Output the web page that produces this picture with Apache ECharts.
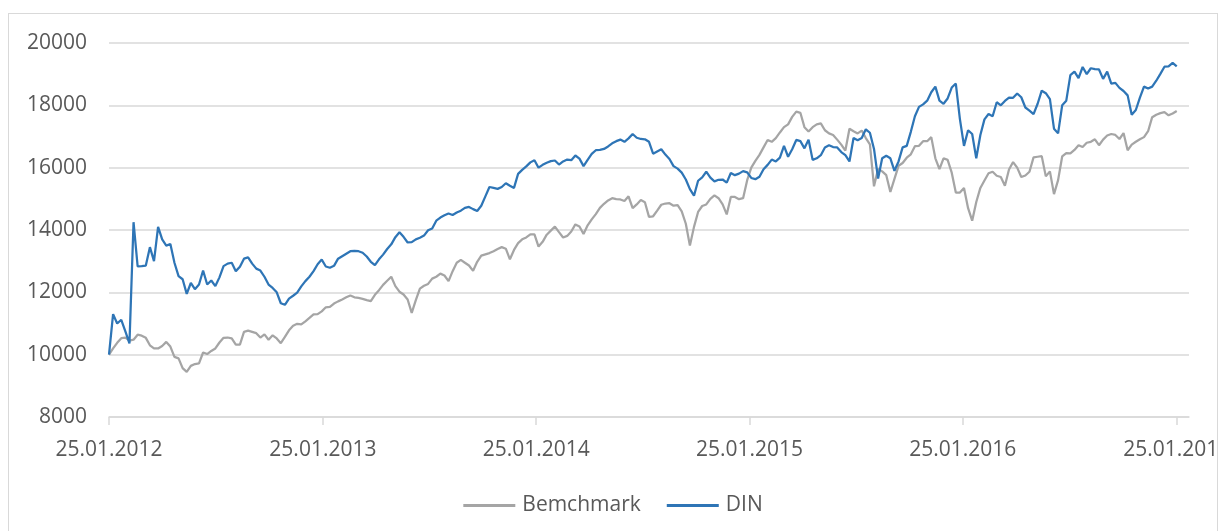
<!DOCTYPE html>
<html>
<head>
<meta charset="utf-8">
<script src="https://cdn.jsdelivr.net/npm/echarts@6/dist/echarts.min.js"></script>
<style>
  html, body { margin: 0; padding: 0; background: #fff; overflow: hidden; }
  #frame {
    position: absolute; left: 8px; top: 13px;
    width: 1208px; height: 540px;
    border: 1px solid #d9d9d9; overflow: hidden;
  }
  #chart { width: 1208px; height: 518px; }
</style>
</head>
<body>
<div id="frame"><div id="chart"></div></div>
<script>
// weekly observations, x = days since 25.01.2012
const startDate = Date.UTC(2012, 0, 25);
const dayMs = 86400000;
const axisEndDay = 1848;
const stepDays = 7;

const tickYears = [2012, 2013, 2014, 2015, 2016, 2017];

const seriesNames = ['Bemchmark', 'DIN'];

const din = [
  10000, 11300, 11000, 11120, 10750, 10360, 14250, 12830, 12840, 12860,
  13450, 13000, 14100, 13700, 13500, 13550, 12950, 12520, 12420, 11950,
  12300, 12100, 12250, 12700, 12250, 12380, 12200, 12480, 12840, 12920,
  12950, 12680, 12820, 13080, 13120, 12920, 12760, 12700, 12500, 12250,
  12140, 12000, 11650, 11600, 11800, 11890, 11990, 12190, 12360, 12500,
  12680, 12900, 13050, 12830, 12790, 12850, 13080, 13160, 13240, 13320,
  13330, 13320, 13270, 13150, 12980, 12870, 13060, 13210, 13390, 13540,
  13770, 13930, 13780, 13600, 13610, 13700, 13750, 13820, 13990, 14050,
  14300, 14400, 14470, 14530, 14480, 14560, 14620, 14710, 14740, 14670,
  14610, 14780, 15080, 15380, 15350, 15320, 15380, 15500, 15420, 15350,
  15800, 15930, 16040, 16170, 16240, 16000, 16090, 16160, 16210, 16230,
  16100, 16200, 16260, 16240, 16390, 16290, 16050, 16250, 16440, 16560,
  16570, 16600, 16680, 16780, 16850, 16900, 16830, 16940, 17080, 16960,
  16920, 16910, 16830, 16450, 16520, 16590, 16420, 16280, 16050, 15970,
  15840, 15620, 15310, 15100, 15580, 15690, 15870, 15680, 15560, 15610,
  15620, 15520, 15830, 15760, 15810, 15890, 15850, 15670, 15630, 15710,
  15950, 16090, 16260, 16200, 16320, 16700, 16350, 16590, 16890, 16850,
  16620, 16900, 16250, 16300, 16400, 16650, 16720, 16660, 16650, 16500,
  16400, 16200, 16950, 16880, 16950, 17230, 17120, 16600, 15650, 16300,
  16380, 16300, 15900, 16200, 16650, 16700, 17150, 17650, 17950, 18030,
  18150, 18420, 18600, 18150, 18050, 18220, 18570, 18700, 17560, 16700,
  17200, 17080, 16300, 17050, 17550, 17720, 17650, 18100, 18000, 18140,
  18250, 18240, 18380, 18260, 17930, 17830, 17720, 18050, 18470, 18390,
  18200, 17250, 17100, 18000, 18150, 18970, 19080, 18870, 19230, 19000,
  19190, 19160, 19150, 18850, 19080, 18700, 18720, 18560, 18460, 18320,
  17700, 17850, 18250, 18600, 18540, 18600, 18790, 19010, 19240, 19250,
  19360, 19250
];

const benchmark = [
  10000, 10200, 10380, 10530, 10550, 10450, 10480, 10640, 10610, 10540,
  10300, 10200, 10200, 10280, 10410, 10260, 9930, 9880, 9570, 9450,
  9640, 9700, 9720, 10070, 10020, 10120, 10200, 10390, 10540, 10550,
  10520, 10320, 10320, 10730, 10770, 10730, 10690, 10550, 10650, 10480,
  10620, 10520, 10370, 10570, 10780, 10930, 10990, 10970, 11070, 11180,
  11290, 11300, 11390, 11520, 11530, 11640, 11710, 11770, 11840, 11900,
  11840, 11820, 11790, 11750, 11720, 11920, 12070, 12240, 12370, 12500,
  12200, 12020, 11930, 11770, 11340, 11750, 12120, 12210, 12270, 12440,
  12500, 12600, 12540, 12360, 12680, 12950, 13040, 12950, 12860, 12690,
  12980, 13180, 13220, 13260, 13320, 13390, 13450, 13400, 13060, 13360,
  13580, 13700, 13760, 13860, 13860, 13470, 13620, 13850, 13980, 14110,
  13930, 13760, 13810, 13950, 14180, 14110, 13870, 14150, 14340, 14510,
  14710, 14840, 14950, 15020, 14990, 14980, 14930, 15080, 14700, 14820,
  14960, 14890, 14420, 14440, 14620, 14810, 14850, 14860, 14780, 14800,
  14600, 14200, 13500, 14100, 14580, 14770, 14820, 15000, 15110, 15020,
  14820, 14500, 15060, 15060, 14990, 15020, 15600, 16000, 16220, 16410,
  16650, 16890, 16830, 16950, 17130, 17300, 17390, 17630, 17800, 17760,
  17300, 17160, 17300, 17390, 17420, 17200, 17100, 17050, 16900, 16740,
  16550, 17250, 17170, 17100, 17190, 16950, 16750, 15400, 15960, 15880,
  15760, 15220, 15640, 16060, 16150, 16320, 16430, 16690, 16700, 16850,
  16850, 16980, 16300, 15950, 16300, 16250, 15840, 15200, 15200, 15350,
  14700, 14300, 14900, 15350, 15590, 15820, 15870, 15740, 15700, 15420,
  15940, 16180, 16000, 15700, 15750, 15870, 16330, 16350, 16370, 15720,
  15880, 15150, 15600, 16360, 16470, 16460, 16570, 16720, 16660, 16800,
  16830, 16910, 16720, 16900, 17030, 17080, 17050, 16920, 17110, 16560,
  16740, 16830, 16910, 16980, 17170, 17620, 17700, 17750, 17780, 17680,
  17740, 17820
];

const days = din.map((_, i) => i * stepDays);
const yearTicks = tickYears.map(y => Math.round((Date.UTC(y, 0, 25) - startDate) / dayMs));

function pad(n) {
  return n < 10 ? '0' + n : '' + n;
}

function formatDay(value) {
  const d = new Date(startDate + value * dayMs);
  return pad(d.getUTCDate()) + '.' + pad(d.getUTCMonth() + 1) + '.' + d.getUTCFullYear();
}

const labelStyle = {
  color: '#595959',
  fontFamily: '"Open Sans", sans-serif',
  fontSize: 21,
};

const myChart = echarts.init(document.getElementById('chart'), null, { renderer: 'canvas' });

myChart.setOption({
  animation: false,
  backgroundColor: '#fff',
  grid: {
    left: 100,
    right: 28,
    top: 29,
    bottom: 115,
    containLabel: false,
    outerBoundsMode: 'none',
  },
  legend: {
    data: seriesNames,
    left: 'center',
    top: 481,
    padding: 0,
    icon: 'rect',
    itemWidth: 52,
    itemHeight: 3,
    itemGap: 26,
    textStyle: Object.assign({}, labelStyle, { padding: [0, 0, 0, 2] }),
  },
  xAxis: {
    type: 'value',
    min: 0,
    max: axisEndDay,
    axisLine: { lineStyle: { color: '#d9d9d9', width: 1.5 } },
    axisTick: {
      show: true,
      customValues: yearTicks,
      length: 8,
      lineStyle: { color: '#d9d9d9', width: 1.5 },
    },
    axisLabel: Object.assign({}, labelStyle, {
      customValues: yearTicks,
      margin: 23,
      formatter: formatDay,
    }),
    splitLine: { show: false },
  },
  yAxis: {
    type: 'value',
    min: 8000,
    max: 20000,
    interval: 2000,
    axisLine: { show: false },
    axisTick: { show: false },
    axisLabel: Object.assign({}, labelStyle, {
      margin: 22,
      formatter: value => String(value),
    }),
    splitLine: { lineStyle: { color: '#d9d9d9', width: 1.5 } },
  },
  series: [
    {
      name: seriesNames[0],
      type: 'line',
      symbol: 'none',
      data: days.map((d, i) => [d, benchmark[i]]),
      lineStyle: { color: '#a5a5a5', width: 2.25 },
      itemStyle: { color: '#a5a5a5' },
    },
    {
      name: seriesNames[1],
      type: 'line',
      symbol: 'none',
      data: days.map((d, i) => [d, din[i]]),
      lineStyle: { color: '#2e75b6', width: 2.25 },
      itemStyle: { color: '#2e75b6' },
    },
  ],
});
</script>
</body>
</html>
